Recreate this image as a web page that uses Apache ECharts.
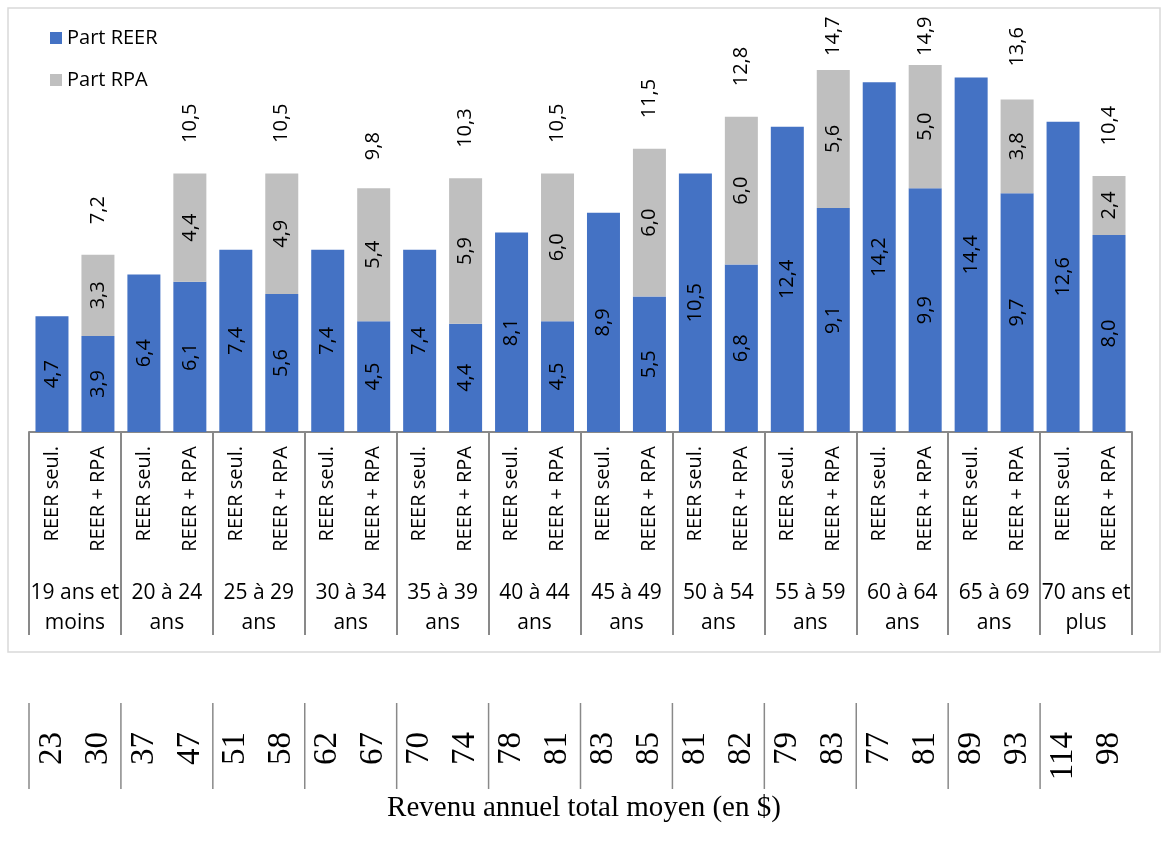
<!DOCTYPE html>
<html>
<head>
<meta charset="utf-8">
<script src="https://cdn.jsdelivr.net/npm/echarts@6/dist/echarts.min.js"></script>
<style>
html,body{margin:0;padding:0;background:#fff;}
#main{width:1170px;height:842px;}
</style>
</head>
<body>
<div id="main"></div>
<script>
const groups = ['19 ans et\nmoins','20 à 24\nans','25 à 29\nans','30 à 34\nans','35 à 39\nans','40 à 44\nans','45 à 49\nans','50 à 54\nans','55 à 59\nans','60 à 64\nans','65 à 69\nans','70 ans et\nplus'];
const types = ['REER seul.','REER + RPA'];
const categories = [];
groups.forEach(function(g){ types.forEach(function(t){ categories.push(t); }); });
const reer = [4.7,3.9,6.4,6.1,7.4,5.6,7.4,4.5,7.4,4.4,8.1,4.5,8.9,5.5,10.5,6.8,12.4,9.1,14.2,9.9,14.4,9.7,12.6,8.0];
const rpa = [null,3.3,null,4.4,null,4.9,null,5.4,null,5.9,null,6.0,null,6.0,null,6.0,null,5.6,null,5.0,null,3.8,null,2.4];
const totals = [null,7.2,null,10.5,null,10.5,null,9.8,null,10.3,null,10.5,null,11.5,null,12.8,null,14.7,null,14.9,null,13.6,null,10.4];
const revenus = ['23','30','37','47','51','58','62','67','70','74','78','81','83','85','81','82','79','83','77','81','89','93','114','98'];
const seriesNames = ['Part REER','Part RPA'];
const caption = 'Revenu annuel total moyen (en $)';

const fmtNum = function(v){ return v == null ? '' : Number(v).toFixed(1).replace('.', ','); };
const fmt = function(p){ return fmtNum(p.value); };
const FONT = 'Open Sans';
const LABEL_SIZE = 20;

const chart = echarts.init(document.getElementById('main'));
const axisGray = '#898989';

function borderGraphics(extra){
  const g = [
    {id:'border', type:'rect', shape:{x:8,y:8,width:1152,height:644}, style:{fill:null, stroke:'#d9d9d9', lineWidth:1.5}, silent:true, z:-10},
    {id:'caption', type:'text', x:584, y:808, style:{text:caption, font:'29px "Liberation Serif"', fill:'#000', align:'center', verticalAlign:'middle'}, silent:true}
  ];
  return g.concat(extra || []);
}

const totalLabel = {show:true, position:'top', distance:30, rotate:90, align:'left', verticalAlign:'middle',
  fontSize:LABEL_SIZE, color:'#000', opacity:1, formatter:fmt};

chart.setOption({
  animation:false,
  textStyle:{fontFamily:FONT},
  legend:{
    data:seriesNames, orient:'vertical', left:50, top:28, padding:0, icon:'rect',
    itemWidth:12, itemHeight:12, itemGap:22,
    textStyle:{fontSize:20, color:'#000', fontFamily:FONT}
  },
  grid:{left:29, right:38, top:38, bottom:410, containLabel:false},
  xAxis:[
    {type:'category', data:categories, position:'bottom', offset:0,
     axisLine:{show:true, lineStyle:{color:axisGray, width:2}},
     axisTick:{show:false},
     axisLabel:{interval:0, rotate:90, fontSize:20, color:'#000', margin:14, fontFamily:FONT}},
    {type:'category', data:groups, position:'bottom', offset:0,
     axisLine:{show:false},
     axisTick:{show:true, length:203, lineStyle:{color:axisGray, width:2}},
     axisLabel:{interval:0, fontSize:21, lineHeight:30, color:'#000', margin:146, fontFamily:FONT}},
    {type:'category', data:revenus, position:'bottom', offset:293,
     axisLine:{show:false}, axisTick:{show:false},
     axisLabel:{interval:0, rotate:90, fontSize:33, color:'#000', margin:7, fontFamily:'Liberation Serif'}}
  ],
  yAxis:{type:'value', min:0, max:16, show:false, splitLine:{show:false}},
  series:[
    {name:seriesNames[0], type:'bar', stack:'a', xAxisIndex:0, data:reer, barWidth:33,
     itemStyle:{color:'#4472C4'},
     label:{show:true, position:'inside', rotate:90, fontSize:LABEL_SIZE, color:'#000', formatter:fmt}},
    {name:seriesNames[1], type:'bar', stack:'a', xAxisIndex:0, data:rpa, barWidth:33,
     itemStyle:{color:'#BFBFBF'},
     label:{show:true, position:'inside', rotate:90, fontSize:LABEL_SIZE, color:'#000', formatter:fmt}},
    {name:'Total', type:'scatter', xAxisIndex:0, data:totals, symbolSize:1, silent:true,
     itemStyle:{color:'rgba(0,0,0,0)', opacity:1},
     label:totalLabel}
  ],
  graphic:borderGraphics()
});

// Keep total labels inside the chart frame (as the spreadsheet does): shrink the gap when needed
const ctx = document.createElement('canvas').getContext('2d');
ctx.font = LABEL_SIZE + 'px "' + FONT + '"';
const totalData = totals.map(function(v, i){
  if (v == null) return v;
  const yTop = chart.convertToPixel({gridIndex:0}, [i, v])[1];
  const w = ctx.measureText(fmtNum(v)).width;
  const d = Math.max(4, Math.min(30, yTop - 17 - w));
  return {value:v, label:{distance:d}};
});

// Divider lines of the income table, placed at the group boundaries of the category axis
const c0 = chart.convertToPixel({xAxisIndex:0}, 0);
const c1 = chart.convertToPixel({xAxisIndex:0}, 1);
const band = c1 - c0;
const lines = [];
for (let g = 0; g < groups.length; g++) {
  const x = chart.convertToPixel({xAxisIndex:0}, g*2) - band/2;
  lines.push({id:'div'+g, type:'line', shape:{x1:x, y1:703, x2:x, y2:789}, style:{stroke:axisGray, lineWidth:1.5}, silent:true});
}
chart.setOption({graphic:borderGraphics(lines), series:[{}, {}, {data:totalData}]});
</script>
</body>
</html>
